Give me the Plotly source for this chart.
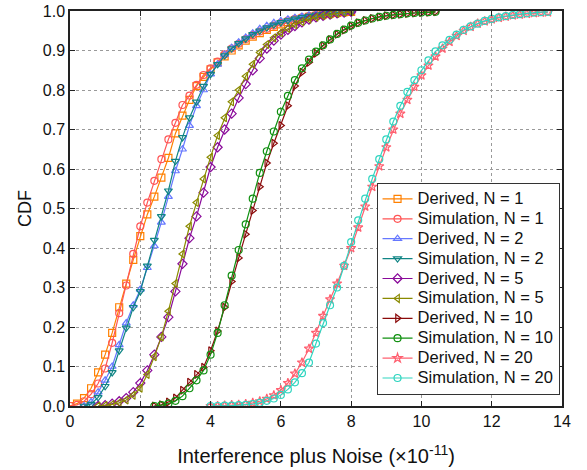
import plotly.graph_objects as go

# x grids (units of 1e-11)
x_low = [0.0, 0.2, 0.4, 0.6, 0.8, 1.0, 1.2, 1.4, 1.6, 1.8, 2.0, 2.2, 2.4, 2.6, 2.8, 3.0, 3.2, 3.4, 3.6, 3.8,
         4.0, 4.2, 4.4, 4.6, 4.8, 5.0, 5.2, 5.4, 5.6, 5.8, 6.0, 6.2, 6.4, 6.6, 6.8, 7.0, 7.2, 7.4, 7.6, 7.8, 8.0]
x_n2 = x_low[2:]
x_n5 = x_low[4:]
x_n10 = [2.4, 2.6, 2.8, 3.0, 3.2, 3.4, 3.6, 3.8, 4.0, 4.2, 4.4, 4.6, 4.8, 5.0, 5.2, 5.4, 5.6, 5.8, 6.0, 6.2,
         6.4, 6.6, 6.8, 7.0, 7.2, 7.4, 7.6, 7.8, 8.0, 8.2, 8.4, 8.6, 8.8, 9.0, 9.2, 9.4, 9.6, 9.8, 10.0, 10.2, 10.4]
x_n20 = [4.0, 4.2, 4.4, 4.6, 4.8, 5.0, 5.2, 5.4, 5.6, 5.8, 6.0, 6.2, 6.4, 6.6, 6.8, 7.0, 7.2, 7.4, 7.6, 7.8,
         8.0, 8.2, 8.4, 8.6, 8.8, 9.0, 9.2, 9.4, 9.6, 9.8, 10.0, 10.2, 10.4, 10.6, 10.8, 11.0, 11.2, 11.4, 11.6,
         11.8, 12.0, 12.2, 12.4, 12.6, 12.8, 13.0, 13.2, 13.4, 13.6]

der_n1 = [0.0, 0.006, 0.02, 0.045, 0.085, 0.13, 0.185, 0.25, 0.31, 0.37, 0.43, 0.485, 0.53, 0.578, 0.628, 0.69,
          0.735, 0.775, 0.81, 0.833, 0.852, 0.87, 0.885, 0.9, 0.913, 0.925, 0.935, 0.944, 0.952, 0.96, 0.966,
          0.972, 0.977, 0.981, 0.985, 0.988, 0.991, 0.993, 0.995, 0.997, 0.998]
sim_n1 = [0.0, 0.003, 0.012, 0.03, 0.057, 0.095, 0.16, 0.235, 0.305, 0.385, 0.455, 0.515, 0.57, 0.625, 0.675,
          0.717, 0.762, 0.786, 0.813, 0.838, 0.855, 0.872, 0.89, 0.905, 0.917, 0.929, 0.939, 0.948, 0.955, 0.963,
          0.97, 0.976, 0.98, 0.984, 0.987, 0.99, 0.992, 0.994, 0.996, 0.997, 0.998]
der_n2 = [0.0, 0.01, 0.035, 0.065, 0.10, 0.155, 0.21, 0.255, 0.295, 0.35, 0.405, 0.465, 0.53, 0.595, 0.65, 0.71,
          0.76, 0.80, 0.84, 0.865, 0.89, 0.907, 0.921, 0.933, 0.944, 0.955, 0.963, 0.97, 0.975, 0.979, 0.983,
          0.986, 0.989, 0.991, 0.993, 0.995, 0.997, 0.998, 0.999]
sim_n2 = [0.0, 0.005, 0.022, 0.05, 0.085, 0.14, 0.198, 0.25, 0.29, 0.355, 0.42, 0.48, 0.545, 0.62, 0.68, 0.73,
          0.77, 0.81, 0.84, 0.865, 0.887, 0.905, 0.918, 0.93, 0.941, 0.95, 0.958, 0.965, 0.971, 0.976, 0.98,
          0.984, 0.987, 0.99, 0.992, 0.994, 0.996, 0.997, 0.998]
der_n5 = [0.0, 0.002, 0.006, 0.012, 0.02, 0.035, 0.058, 0.09, 0.13, 0.175, 0.225, 0.29, 0.36, 0.425, 0.48, 0.54,
          0.605, 0.655, 0.70, 0.74, 0.78, 0.815, 0.85, 0.88, 0.905, 0.925, 0.94, 0.952, 0.962, 0.971, 0.978,
          0.984, 0.988, 0.991, 0.994, 0.996, 0.998]
sim_n5 = [0.0, 0.001, 0.004, 0.008, 0.015, 0.027, 0.045, 0.08, 0.125, 0.175, 0.24, 0.31, 0.385, 0.455, 0.515,
          0.575, 0.63, 0.685, 0.73, 0.77, 0.80, 0.835, 0.865, 0.895, 0.915, 0.932, 0.945, 0.956, 0.965, 0.973,
          0.979, 0.984, 0.988, 0.991, 0.994, 0.996, 0.998]
der_n10 = [0.0, 0.003, 0.01, 0.02, 0.04, 0.06, 0.08, 0.098, 0.14, 0.19, 0.25, 0.315, 0.375, 0.435, 0.495, 0.555,
           0.615, 0.665, 0.71, 0.76, 0.81, 0.845, 0.87, 0.893, 0.912, 0.927, 0.941, 0.952, 0.962, 0.97, 0.976,
           0.981, 0.985, 0.988, 0.99, 0.992, 0.994, 0.995, 0.996, 0.997, 0.998]
sim_n10 = [0.0, 0.002, 0.006, 0.013, 0.025, 0.045, 0.065, 0.09, 0.13, 0.185, 0.255, 0.33, 0.395, 0.46, 0.525,
           0.59, 0.645, 0.695, 0.745, 0.785, 0.825, 0.855, 0.877, 0.897, 0.913, 0.928, 0.942, 0.953, 0.963, 0.97,
           0.976, 0.981, 0.985, 0.988, 0.99, 0.992, 0.994, 0.995, 0.996, 0.997, 0.998]
der_n20 = [0.0, 0.0, 0.001, 0.002, 0.003, 0.005, 0.008, 0.012, 0.018, 0.027, 0.04, 0.058, 0.082, 0.11, 0.145,
           0.185, 0.228, 0.27, 0.31, 0.355, 0.40, 0.452, 0.505, 0.555, 0.607, 0.655, 0.70, 0.74, 0.775, 0.808,
           0.837, 0.862, 0.885, 0.905, 0.922, 0.937, 0.95, 0.96, 0.968, 0.974, 0.979, 0.983, 0.986, 0.989, 0.991,
           0.993, 0.995, 0.996, 0.997]
sim_n20 = [0.0, 0.0, 0.001, 0.001, 0.002, 0.003, 0.005, 0.008, 0.013, 0.019, 0.028, 0.042, 0.06, 0.083, 0.11,
           0.158, 0.21, 0.255, 0.30, 0.355, 0.415, 0.47, 0.525, 0.575, 0.625, 0.675, 0.72, 0.76, 0.795, 0.825,
           0.85, 0.875, 0.898, 0.913, 0.927, 0.94, 0.952, 0.961, 0.968, 0.975, 0.98, 0.984, 0.987, 0.99, 0.992,
           0.994, 0.996, 0.997, 0.998]

names = ["Derived, N = 1", "Simulation, N = 1", "Derived, N = 2", "Simulation, N = 2",
         "Derived, N = 5", "Simulation, N = 5", "Derived, N = 10", "Simulation, N = 10",
         "Derived, N = 20", "Simulation, N = 20"]

series = [
    (x_low, der_n1, "#FF8000", "square-open"),
    (x_low, sim_n1, "#FF5555", "circle-open"),
    (x_n2, der_n2, "#6678FF", "triangle-up-open"),
    (x_n2, sim_n2, "#108585", "triangle-down-open"),
    (x_n5, der_n5, "#8A0A9A", "diamond-open"),
    (x_n5, sim_n5, "#8A8A00", "triangle-left-open"),
    (x_n10, der_n10, "#8B0A0A", "triangle-right-open"),
    (x_n10, sim_n10, "#109010", "circle-open"),
    (x_n20, der_n20, "#FF6070", "star-open"),
    (x_n20, sim_n20, "#30D5C0", "circle-open"),
]

FONT = "Liberation Sans, Arial, sans-serif"

fig = go.Figure()
for name, (xs, ys, col, sym) in zip(names, series):
    fig.add_trace(go.Scatter(
        x=xs, y=ys, name='<span style="font-size:16.5px">' + name + '</span>',
        mode="lines+markers",
        line=dict(color=col, width=1.2),
        marker=dict(symbol=sym, size=7, color=col, line=dict(color=col, width=1.2)),
    ))

axis_common = dict(
    showline=True, linecolor="#222", linewidth=1.5, mirror="ticks",
    ticks="inside", ticklen=5, tickcolor="#222", tickwidth=1.2,
    showgrid=True, gridcolor="#9a9a9a", griddash="dot", gridwidth=1,
    zeroline=False, automargin=False,
    tickfont=dict(family=FONT, size=16, color="#111"),
)

fig.update_xaxes(range=[0, 14], dtick=2, tick0=0,
                 title=dict(text="Interference plus Noise (×10<sup>-11</sup>)",
                            font=dict(family=FONT, size=20, color="#111"),
                            standoff=20),
                 **axis_common)
fig.update_yaxes(range=[0, 1], dtick=0.1, tick0=0, tickformat=".1f",
                 title=dict(text="CDF",
                            font=dict(family=FONT, size=18, color="#111"),
                            standoff=6),
                 **axis_common)

fig.update_layout(
    width=587, height=470,
    margin=dict(l=70, r=25, t=11, b=64),
    paper_bgcolor="white", plot_bgcolor="white",
    showlegend=True,
    legend=dict(x=0.995, y=0.028, xanchor="right", yanchor="bottom",
                bgcolor="white", bordercolor="#333", borderwidth=1,
                font=dict(family=FONT, size=13.0, color="#111"),
                tracegroupgap=0, itemwidth=30),
)

fig.write_html("out.html")
